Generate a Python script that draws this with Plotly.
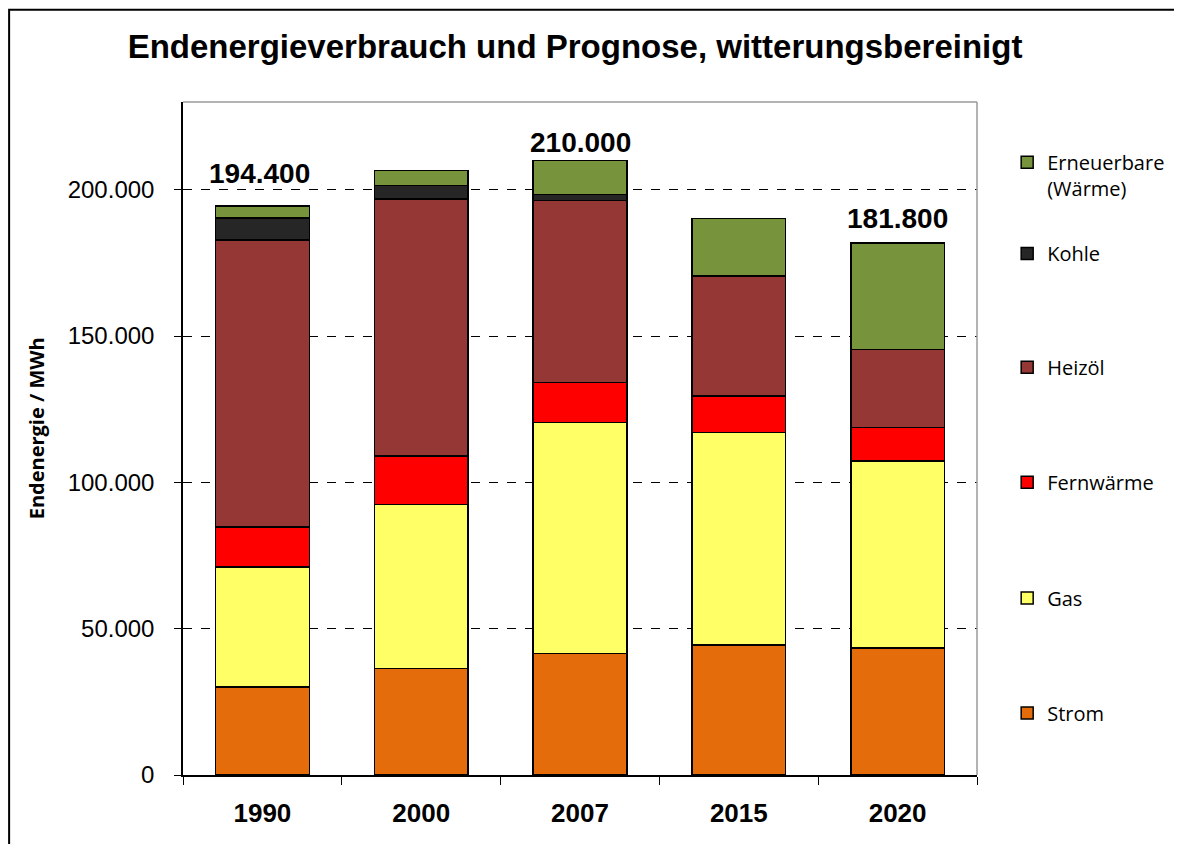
import plotly.graph_objects as go

# Jahre (Kategorien)
years = ["1990", "2000", "2007", "2015", "2020"]

# Endenergie je Energieträger in MWh
strom = [30100, 36400, 41500, 44400, 43400]
gas = [41000, 56100, 78900, 72700, 63900]
fernwaerme = [13700, 16500, 13700, 12400, 11500]
heizoel = [98100, 87900, 62200, 41000, 26700]
kohle = [7400, 4600, 2100, 0, 0]
erneuerbare = [4100, 5100, 11600, 19700, 36300]

# Summenbeschriftungen (nur bei einigen Jahren)
total_labels = ["194.400", "", "210.000", "", "181.800"]
label_shift = [33, 0, 18, 0, 25]
label_xshift = [-3, 0, 0, 0, 0]

series = [
    ("Strom", strom, "#E46C0A"),
    ("Gas", gas, "#FFFF66"),
    ("Fernwärme", fernwaerme, "#FF0000"),
    ("Heizöl", heizoel, "#953735"),
    ("Kohle", kohle, "#262626"),
    ("Erneuerbare<br>(Wärme)", erneuerbare, "#77933C"),
]
# vertikale Lage der Legendeneinträge (Papierkoordinaten)
legend_y = [0.092, 0.263, 0.435, 0.606, 0.775, 0.891]

fig = go.Figure()

# Gestapelte Balken, jeder Eintrag mit eigener Legende
for i, (name, values, color) in enumerate(series):
    fig.add_trace(go.Bar(
        x=years,
        y=values,
        name=name,
        showlegend=True,
        legend="legend" if i == 0 else f"legend{i + 1}",
        marker=dict(color=color, line=dict(color="black", width=1.5)),
    ))

# Summen oberhalb der Balken
totals = [sum(v) for v in zip(strom, gas, fernwaerme, heizoel, kohle, erneuerbare)]
for i, (total, text, dy, dx) in enumerate(zip(totals, total_labels, label_shift, label_xshift)):
    if text:
        fig.add_annotation(
            x=i, y=total, text=f"<b>{text}</b>", showarrow=False,
            xanchor="center", yanchor="middle", yshift=dy, xshift=dx,
            font=dict(family="Liberation Sans", size=28, color="black"),
        )

# Achsentitel (vertikal)
fig.add_annotation(
    xref="paper", yref="paper", x=-0.184, y=0.515,
    xanchor="center", yanchor="middle",
    text="<b>Endenergie / MWh</b>", textangle=-90, showarrow=False,
    font=dict(family="Open Sans", size=20, color="black"),
)

# Rahmen des Diagrammbereichs (oben/rechts grau) und äußerer Rahmen
fig.add_shape(type="line", xref="paper", yref="paper", x0=0, x1=1, y0=1, y1=1,
              line=dict(color="#9a9a9a", width=1.5))
fig.add_shape(type="line", xref="paper", yref="paper", x0=1, x1=1, y0=0, y1=1,
              line=dict(color="#9a9a9a", width=1.5))
fig.add_shape(type="rect", xref="paper", yref="paper", x0=-0.219, x1=2, y0=-1, y1=1.137,
              line=dict(color="black", width=2))

legend_style = dict(
    x=1.038, xanchor="left", yanchor="middle", valign="top",
    font=dict(family="Open Sans", size=20, color="black"),
    bgcolor="rgba(0,0,0,0)",
)
legends = {}
for i, y in enumerate(legend_y):
    key = "legend" if i == 0 else f"legend{i + 1}"
    legends[key] = dict(legend_style, y=y)

fig.update_layout(
    width=1174,
    height=836,
    barmode="stack",
    bargap=0.41,
    separators=",.",
    showlegend=True,
    plot_bgcolor="white",
    paper_bgcolor="white",
    margin=dict(l=175, r=205, t=94, b=69, autoexpand=False),
    title=dict(
        text="<b>Endenergieverbrauch und Prognose, witterungsbereinigt</b>",
        x=0.483, xanchor="center", y=0.954, yanchor="middle",
        font=dict(family="Liberation Sans", size=33, color="black"),
    ),
    xaxis=dict(
        type="category", range=[-0.5, 4.5],
        showline=True, linecolor="black", linewidth=1.5,
        ticks="outside", tickson="boundaries", ticklen=8, tickcolor="black",
        tickfont=dict(family="Liberation Sans", size=26, color="black", weight="bold"),
        ticklabelstandoff=14, tickangle=0,
        showgrid=False,
    ),
    yaxis=dict(
        range=[0, 230000], tickvals=[0, 50000, 100000, 150000, 200000],
        tickformat=",d",
        showline=True, linecolor="black", linewidth=1.5,
        ticks="outside", ticklen=7, tickcolor="black",
        tickfont=dict(family="Liberation Sans", size=24, color="black"),
        ticklabelstandoff=15,
        showgrid=True, gridcolor="black", gridwidth=1, griddash="dash",
        zeroline=False,
    ),
    **legends,
)

fig.write_html("out.html")
